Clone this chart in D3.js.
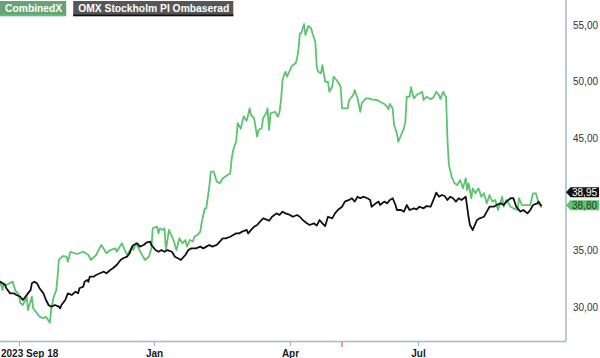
<!DOCTYPE html>
<html><head><meta charset="utf-8">
<script src="https://cdn.jsdelivr.net/npm/d3@7"></script>
<style>
html,body{margin:0;padding:0;background:#fff;}
svg{display:block;font-family:"Liberation Sans",Arial,sans-serif;}
</style></head>
<body><svg id="c" width="600" height="358"></svg>
<script>
const seriesNames = ["CombinedX", "OMX Stockholm PI Ombaserad"];
const seriesColors = ["#5cc46d", "#111111"];
const xTickDates = ["2023-09-18", "2024-01-01", "2024-04-01", "2024-07-01"];
const xTickLabels = ["2023 Sep 18", "Jan", "Apr", "Jul"];
const markerDates = ["2024-05-08"];
const yTickValues = [30, 35, 40, 45, 50, 55];

const combinedDates = ["2023-09-03","2023-09-05","2023-09-06","2023-09-08","2023-09-13","2023-09-15","2023-09-18","2023-09-19","2023-09-21","2023-09-24","2023-09-25","2023-09-28","2023-09-29","2023-10-02","2023-10-04","2023-10-07","2023-10-09","2023-10-12","2023-10-13","2023-10-15","2023-10-17","2023-10-18","2023-10-19","2023-10-22","2023-10-25","2023-10-26","2023-10-28","2023-11-02","2023-11-07","2023-11-11","2023-11-13","2023-11-17","2023-11-21","2023-11-25","2023-11-28","2023-12-02","2023-12-03","2023-12-07","2023-12-11","2023-12-15","2023-12-16","2023-12-18","2023-12-22","2023-12-25","2023-12-28","2023-12-30","2023-12-31","2024-01-03","2024-01-04","2024-01-05","2024-01-07","2024-01-08","2024-01-09","2024-01-11","2024-01-14","2024-01-16","2024-01-18","2024-01-20","2024-01-22","2024-01-23","2024-01-25","2024-01-27","2024-01-28","2024-01-30","2024-02-01","2024-02-02","2024-02-04","2024-02-05","2024-02-07","2024-02-08","2024-02-10","2024-02-12","2024-02-14","2024-02-16","2024-02-21","2024-02-22","2024-02-23","2024-02-25","2024-02-26","2024-02-28","2024-03-01","2024-03-03","2024-03-05","2024-03-06","2024-03-08","2024-03-10","2024-03-11","2024-03-13","2024-03-14","2024-03-16","2024-03-17","2024-03-18","2024-03-19","2024-03-22","2024-03-24","2024-03-25","2024-03-26","2024-03-27","2024-03-28","2024-03-29","2024-03-30","2024-04-01","2024-04-02","2024-04-03","2024-04-05","2024-04-06","2024-04-07","2024-04-08","2024-04-09","2024-04-11","2024-04-12","2024-04-14","2024-04-16","2024-04-17","2024-04-19","2024-04-20","2024-04-21","2024-04-23","2024-04-24","2024-04-26","2024-04-28","2024-04-29","2024-05-01","2024-05-02","2024-05-04","2024-05-05","2024-05-07","2024-05-08","2024-05-12","2024-05-13","2024-05-16","2024-05-17","2024-05-19","2024-05-21","2024-05-22","2024-05-25","2024-05-27","2024-05-29","2024-06-02","2024-06-04","2024-06-07","2024-06-09","2024-06-10","2024-06-11","2024-06-13","2024-06-14","2024-06-16","2024-06-17","2024-06-19","2024-06-21","2024-06-22","2024-06-23","2024-06-25","2024-06-26","2024-06-28","2024-06-30","2024-07-03","2024-07-04","2024-07-05","2024-07-07","2024-07-10","2024-07-12","2024-07-14","2024-07-16","2024-07-17","2024-07-19","2024-07-20","2024-07-21","2024-07-22","2024-07-23","2024-07-25","2024-07-27","2024-07-29","2024-07-31","2024-08-02","2024-08-04","2024-08-05","2024-08-06","2024-08-08","2024-08-09","2024-08-11","2024-08-13","2024-08-14","2024-08-15","2024-08-17","2024-08-19","2024-08-21","2024-08-23","2024-08-25","2024-08-27","2024-08-30","2024-08-31","2024-09-02","2024-09-05","2024-09-07","2024-09-10","2024-09-11","2024-09-13","2024-09-15","2024-09-19","2024-09-21","2024-09-23","2024-09-25","2024-09-26","2024-09-27"];
const combinedValues = [32.3,31.5,32.1,31.95,32.25,31.5,31.06,30.35,30.18,30.9,29.73,30.9,29.88,29.44,29.14,29.0,29.14,28.6,29.73,30.9,31.5,32.69,34.17,34.52,34.46,34.02,34.9,34.7,34.9,34.61,34.17,34.61,35.5,34.76,35.05,35.2,34.9,35.65,34.61,35.35,35.05,35.65,34.76,34.17,34.46,35.2,36.98,37.12,36.53,36.98,36.83,36.98,35.05,36.83,35.94,35.05,36.09,35.65,35.94,35.35,35.94,35.8,36.23,36.38,36.68,37.56,38.75,38.75,40.67,42.0,42.0,41.11,40.97,41.41,41.85,43.18,43.92,44.7,46.3,45.8,46.9,46.5,47.6,47.0,46.73,45.1,45.69,45.84,46.73,47.17,47.6,45.69,47.17,47.31,46.87,47.31,48.35,50.12,50.57,50.86,50.42,51.0,51.3,51.45,51.6,52.04,52.78,54.26,54.26,55.09,54.11,54.91,54.71,54.26,53.52,51.3,50.86,50.72,51.45,49.97,49.97,49.08,49.53,50.42,50.12,49.97,49.53,47.6,47.6,48.35,48.79,49.24,48.5,47.31,48.06,48.5,48.5,48.41,48.35,48.2,48.0,47.76,47.53,48.0,47.6,46.13,45.4,44.65,45.25,45.84,46.43,48.64,48.64,49.48,48.5,48.79,49.0,49.08,48.35,48.64,48.41,48.58,49.08,48.79,48.43,49.08,48.79,48.64,44.8,42.6,41.55,40.97,40.82,41.26,40.52,41.41,40.37,40.97,39.64,40.52,40.08,40.52,40.22,39.78,40.08,39.19,39.93,39.34,39.49,38.6,39.78,38.89,39.49,38.89,38.75,38.6,39.64,39.04,39.04,39.04,40.08,40.08,39.19,39.04,38.80];

const omxDates = ["2023-09-03","2023-09-05","2023-09-07","2023-09-08","2023-09-11","2023-09-14","2023-09-16","2023-09-19","2023-09-21","2023-09-23","2023-09-25","2023-09-27","2023-09-28","2023-09-30","2023-10-02","2023-10-04","2023-10-07","2023-10-09","2023-10-11","2023-10-13","2023-10-16","2023-10-19","2023-10-20","2023-10-21","2023-10-24","2023-10-26","2023-10-29","2023-11-01","2023-11-03","2023-11-04","2023-11-07","2023-11-08","2023-11-10","2023-11-11","2023-11-12","2023-11-15","2023-11-17","2023-11-20","2023-11-23","2023-11-25","2023-11-28","2023-11-30","2023-12-03","2023-12-06","2023-12-08","2023-12-11","2023-12-13","2023-12-15","2023-12-16","2023-12-19","2023-12-21","2023-12-24","2023-12-26","2023-12-29","2023-12-30","2024-01-02","2024-01-04","2024-01-06","2024-01-08","2024-01-10","2024-01-13","2024-01-15","2024-01-17","2024-01-19","2024-01-22","2024-01-24","2024-01-26","2024-01-29","2024-02-01","2024-02-03","2024-02-05","2024-02-07","2024-02-09","2024-02-12","2024-02-14","2024-02-16","2024-02-18","2024-02-21","2024-02-23","2024-02-25","2024-02-27","2024-02-29","2024-03-03","2024-03-04","2024-03-06","2024-03-08","2024-03-10","2024-03-12","2024-03-14","2024-03-16","2024-03-18","2024-03-20","2024-03-23","2024-03-25","2024-03-27","2024-03-29","2024-04-01","2024-04-03","2024-04-06","2024-04-08","2024-04-10","2024-04-13","2024-04-15","2024-04-18","2024-04-20","2024-04-22","2024-04-24","2024-04-26","2024-04-28","2024-05-01","2024-05-03","2024-05-05","2024-05-08","2024-05-10","2024-05-13","2024-05-15","2024-05-17","2024-05-19","2024-05-21","2024-05-23","2024-05-26","2024-05-28","2024-05-29","2024-06-01","2024-06-03","2024-06-04","2024-06-07","2024-06-09","2024-06-11","2024-06-13","2024-06-15","2024-06-16","2024-06-19","2024-06-21","2024-06-23","2024-06-25","2024-06-28","2024-06-30","2024-07-02","2024-07-05","2024-07-07","2024-07-10","2024-07-12","2024-07-14","2024-07-16","2024-07-18","2024-07-20","2024-07-22","2024-07-24","2024-07-26","2024-07-28","2024-07-30","2024-08-01","2024-08-04","2024-08-05","2024-08-06","2024-08-07","2024-08-09","2024-08-11","2024-08-12","2024-08-14","2024-08-17","2024-08-19","2024-08-21","2024-08-24","2024-08-26","2024-08-29","2024-08-31","2024-09-02","2024-09-05","2024-09-07","2024-09-09","2024-09-12","2024-09-14","2024-09-17","2024-09-19","2024-09-21","2024-09-24","2024-09-25","2024-09-26","2024-09-27"];
const omxValues = [32.25,32.1,31.95,31.66,31.21,31.21,31.06,30.91,30.62,30.91,31.21,31.5,32.1,32.24,32.1,31.66,31.21,30.62,30.18,30.03,30.18,30.03,29.88,30.18,30.62,31.21,31.06,31.36,31.21,31.66,31.8,32.24,32.39,32.24,32.69,32.69,32.84,32.99,33.13,32.99,33.28,33.43,33.72,34.17,34.32,34.46,34.76,35.35,35.5,35.65,35.35,35.5,35.7,35.8,35.5,35.05,34.9,35.05,34.9,35.05,34.9,34.46,34.32,34.17,34.61,35.05,35.2,35.2,35.35,35.2,35.35,35.5,35.35,35.5,35.8,36.09,36.09,36.23,36.38,36.53,36.53,36.68,36.83,36.53,36.83,37.12,37.27,37.56,37.86,37.77,37.65,38.0,38.3,38.16,38.45,38.3,38.16,38.0,38.16,38.0,37.71,37.42,37.27,37.42,37.21,37.71,37.42,37.18,38.0,37.86,38.3,38.6,38.89,39.34,39.49,39.64,39.34,39.78,39.64,39.78,39.64,39.49,38.89,39.19,39.34,39.04,39.34,39.19,39.49,39.64,39.04,38.6,38.6,38.45,39.04,38.6,38.75,38.66,38.89,38.75,38.95,38.89,39.49,40.14,39.78,39.93,39.84,39.49,39.78,39.64,39.34,39.64,39.49,39.78,38.89,38.0,37.27,36.83,37.42,37.71,37.86,38.0,38.45,38.89,38.89,39.04,39.19,39.04,39.34,39.64,39.64,38.89,38.45,38.6,38.3,38.6,39.04,39.19,39.34,39.13,38.95];

const parse = d3.utcParse("%Y-%m-%d");
const series = [
  {name: seriesNames[0], color: seriesColors[0], pts: combinedDates.map((d,i)=>({date: parse(d), v: combinedValues[i]}))},
  {name: seriesNames[1], color: seriesColors[1], pts: omxDates.map((d,i)=>({date: parse(d), v: omxValues[i]}))}
];

const svg = d3.select("#c");
const plotRight = 566, plotBottom = 341;
const firstDate = parse(combinedDates[0]);
const lastDate = parse(combinedDates[combinedDates.length-1]);
const x = d3.scaleUtc()
  .domain([firstDate, ...xTickDates.map(parse), lastDate])
  .range([0, 19, 154, 290, 418, 541.5]);
const y = d3.scaleLinear().domain([30, 55]).range([307, 25]);
const axisColor = "#9dbbd2";

// last-value flags layout (computed first so covered tick labels can be skipped)
const flags = series.map(s => ({s, v: s.pts[s.pts.length-1].v}));
flags.sort((a,b)=>a.v-b.v);
flags[0].cy = y(flags[0].v) - 2.5;
flags[1].cy = Math.min(y(flags[1].v), flags[0].cy - 13);

// frame: right and bottom
svg.append("line").attr("x1", plotRight).attr("x2", plotRight).attr("y1", 0).attr("y2", plotBottom)
  .attr("stroke", axisColor).attr("stroke-width", 1.5);

// bottom axis
const xAxis = d3.axisBottom(x).tickValues(xTickDates.map(parse)).tickSize(5).tickSizeOuter(0)
  .tickFormat((d,i)=>xTickLabels[i]);
const gx = svg.append("g").attr("transform", `translate(0,${plotBottom})`).call(xAxis);
gx.select(".domain").attr("d", `M0,0.5H${plotRight}`).attr("stroke", axisColor).attr("stroke-width", 1.5);
gx.selectAll(".tick line").attr("stroke", axisColor).attr("stroke-width", 1.2);
gx.selectAll(".tick text").attr("y", 9).attr("dy", "0.71em")
  .attr("fill", "#1a1a1a").attr("font-size", 10).attr("font-weight", "bold")
  .attr("font-family", '"Liberation Sans",Arial,sans-serif');
gx.selectAll(".tick text").each(function(){
  const t = d3.select(this); const bb = this.getBBox();
  const tx = +d3.select(this.parentNode).attr("transform").match(/translate\(([-\d.]+)/)[1];
  if (tx + bb.x < 1) t.attr("text-anchor", "start").attr("x", 1 - tx);
});
// event marker
svg.selectAll(".marker").data(markerDates.map(parse)).join("line")
  .attr("x1", d=>x(d)).attr("x2", d=>x(d)).attr("y1", plotBottom+1).attr("y2", plotBottom+6)
  .attr("stroke", "#f0606a").attr("stroke-width", 1.3);

// right axis labels (labels hidden behind the value flags are not drawn)
const fmt = v => d3.format(".2f")(v).replace(".", ",");
const visibleTicks = yTickValues.filter(v => flags.every(f => Math.abs(y(v) - f.cy) > 9));
const yAxis = d3.axisRight(y).tickValues(visibleTicks).tickSize(0).tickPadding(7).tickFormat(fmt);
const gy = svg.append("g").attr("transform", `translate(${plotRight},0)`).call(yAxis);
gy.select(".domain").remove();
gy.selectAll(".tick text").attr("fill", "#333").attr("font-size", 10)
  .attr("font-family", '"Liberation Sans",Arial,sans-serif');

// lines
const line = d3.line().x(d=>x(d.date)).y(d=>y(d.v));
svg.selectAll(".series").data(series).join("path")
  .attr("fill", "none").attr("stroke", d=>d.color).attr("stroke-width", 1.8)
  .attr("stroke-linejoin", "round").attr("d", d=>line(d.pts));

// flags
const fg = svg.append("g");
flags.forEach(f => {
  const g = fg.append("g");
  const h = 10, x0 = plotRight, w = 33;
  g.append("path").attr("d", `M${x0},${f.cy} L${x0+4.5},${f.cy-h/2} H${x0+w} V${f.cy+h/2} H${x0+4.5} Z`)
    .attr("fill", f.s.color);
  g.append("text").attr("x", x0+6).attr("y", f.cy).attr("dy", "0.36em")
    .attr("font-size", 10).attr("fill", f.s.color === "#111111" ? "#fff" : "#1d3d22")
    .text(fmt(f.v));
});

// legend
const legendBg = ["#67a377", "#565656"];
let lx = 0;
series.forEach((s, i) => {
  const g = svg.append("g").attr("transform", `translate(${lx},1)`);
  const t = g.append("text").attr("x", 5).attr("y", 11).attr("font-size", 10.3).attr("font-weight", "bold")
    .attr("fill", "#fff").text(s.name);
  const w = t.node().getComputedTextLength() + 9;
  g.insert("rect", "text").attr("width", w).attr("height", 15).attr("fill", legendBg[i]);
  g.insert("rect", "text").attr("y", 13.5).attr("width", w).attr("height", 1.8).attr("fill", s.color);
  lx += w + 7;
});
</script></body></html>
